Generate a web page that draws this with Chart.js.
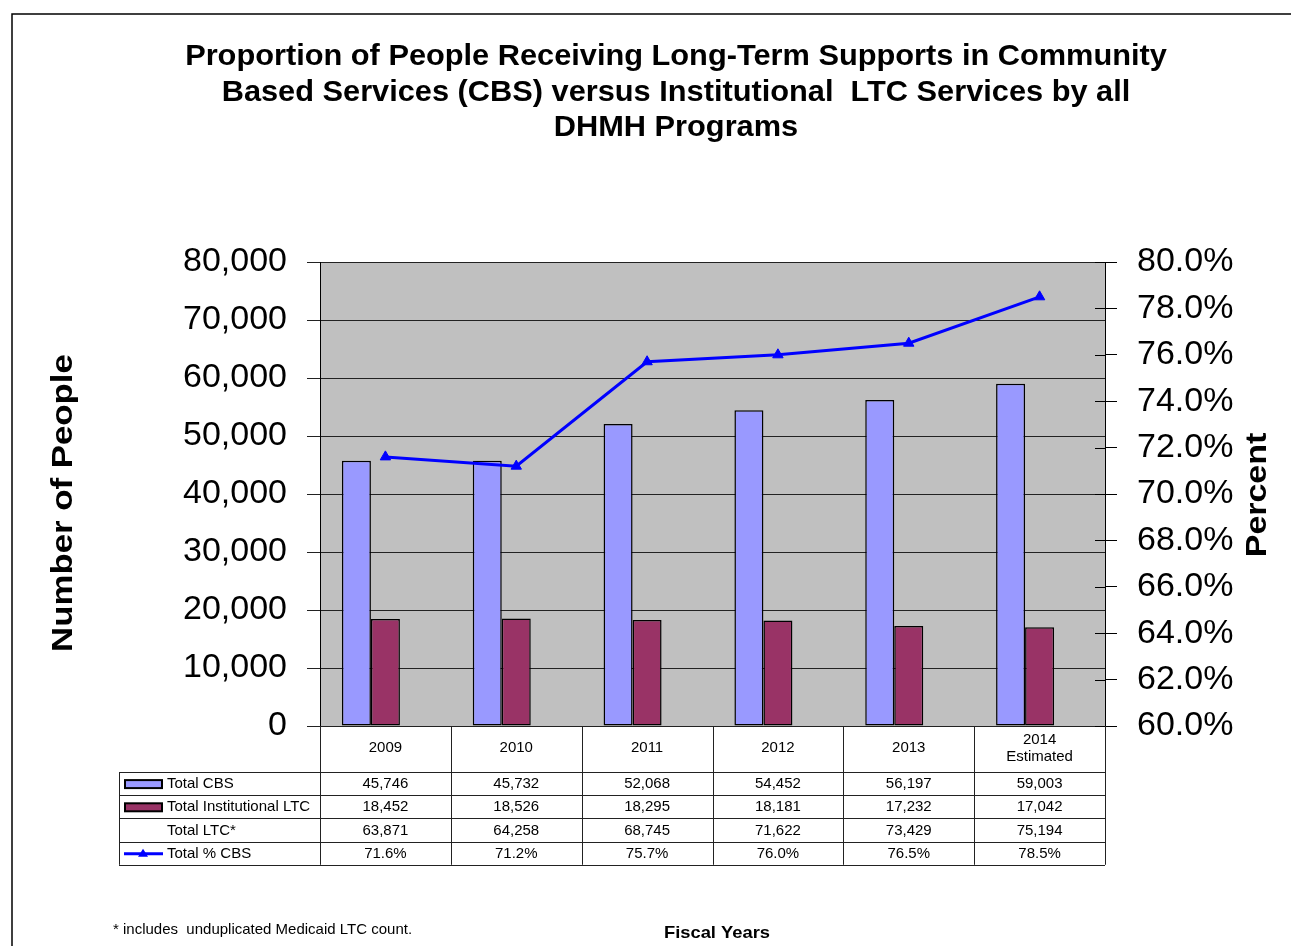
<!DOCTYPE html>
<html>
<head>
<meta charset="utf-8">
<script src="https://cdn.jsdelivr.net/npm/chart.js@4.4.1/dist/chart.umd.min.js"></script>
<style>
    body { margin: 0; background: #fff; }
    canvas { display: block; }
</style>
</head>
<body>
<canvas id="chartLtc" width="1291" height="946"></canvas>
<script>
// fiscal years (second line shown only in the table header)
let years = [["2009"], ["2010"], ["2011"], ["2012"], ["2013"], ["2014", "Estimated"]];
let totalCbs = [45746, 45732, 52068, 54452, 56197, 59003];
let totalInst = [18452, 18526, 18295, 18181, 17232, 17042];
let totalLtc = [63871, 64258, 68745, 71622, 73429, 75194];
let pctCbs = [71.6, 71.2, 75.7, 76.0, 76.5, 78.5];

let titleLines = [
    "Proportion of People Receiving Long-Term Supports in Community",
    "Based Services (CBS) versus Institutional  LTC Services by all",
    "DHMH Programs"
];

const FONT = "'Liberation Sans', Arial, sans-serif";
const CBS_COLOR = "#9999ff";
const INST_COLOR = "#993366";
const LINE_COLOR = "#0000ff";

let num = v => v.toLocaleString("en-US");
let pct = v => v.toFixed(1) + "%";

let tableRows = [
    {label: "Total CBS", values: totalCbs, fmt: num, key: "bar", color: CBS_COLOR},
    {label: "Total Institutional LTC", values: totalInst, fmt: num, key: "bar", color: INST_COLOR},
    {label: "Total LTC*", values: totalLtc, fmt: num, key: null},
    {label: "Total % CBS", values: pctCbs, fmt: pct, key: "line", color: LINE_COLOR}
];

// text drawn a little wider than the font, like the original export
function drawText(ctx, text, x, y, font, sx, rotate) {
    ctx.save();
    ctx.translate(x, y);
    if (rotate) ctx.rotate(-Math.PI / 2);
    ctx.scale(sx, 1);
    ctx.font = font;
    ctx.textAlign = "center";
    ctx.textBaseline = "middle";
    ctx.fillStyle = "#000";
    ctx.fillText(text, 0, 0);
    ctx.restore();
}

let extras = {
    id: "extras",
    beforeDraw(chart) {
        let {ctx, chartArea: a} = chart;
        ctx.save();
        ctx.fillStyle = "#c0c0c0";
        ctx.fillRect(a.left, a.top, a.right - a.left, a.bottom - a.top);
        ctx.restore();
    },
    afterDraw(chart) {
        let {ctx, chartArea: a, scales} = chart;
        ctx.save();

        // page frame
        ctx.strokeStyle = "#000";
        ctx.lineWidth = 1.5;
        ctx.beginPath();
        ctx.moveTo(12, 946);
        ctx.lineTo(12, 14);
        ctx.lineTo(1291, 14);
        ctx.stroke();

        // title
        titleLines.forEach((t, i) => drawText(ctx, t, 676, 57 + i * 35.5, `bold 30px ${FONT}`, 1.025, false));

        // axis titles
        drawText(ctx, "Number of People", 64, 503, `bold 29px ${FONT}`, 1.2, true);
        drawText(ctx, "Percent", 1258, 495, `bold 29px ${FONT}`, 1.17, true);

        // right axis ticks cross the axis line
        let y1 = scales.y1;
        ctx.strokeStyle = "#000";
        ctx.lineWidth = 1;
        y1.ticks.forEach(t => {
            let y = Math.round(y1.getPixelForValue(t.value)) + 0.5;
            ctx.beginPath();
            ctx.moveTo(a.right - 10, y);
            ctx.lineTo(a.right, y);
            ctx.stroke();
        });

        // data table
        let n = years.length;
        let colW = (a.right - a.left) / n;
        let headBottom = 772;
        let rowH = 23.2;
        let tableLeft = 119;
        let tableBottom = headBottom + rowH * tableRows.length;

        ctx.strokeStyle = "#222";
        ctx.lineWidth = 1;
        ctx.beginPath();
        for (let i = 0; i <= n; i++) {
            let x = Math.round(a.left + i * colW) + 0.5;
            ctx.moveTo(x, a.bottom);
            ctx.lineTo(x, tableBottom);
        }
        ctx.moveTo(tableLeft + 0.5, headBottom);
        ctx.lineTo(tableLeft + 0.5, tableBottom);
        for (let r = 0; r <= tableRows.length; r++) {
            let y = Math.round(headBottom + r * rowH) + 0.5;
            ctx.moveTo(tableLeft, y);
            ctx.lineTo(a.right, y);
        }
        ctx.stroke();

        ctx.font = `15px ${FONT}`;
        ctx.fillStyle = "#000";
        ctx.textAlign = "center";
        ctx.textBaseline = "middle";
        years.forEach((lines, i) => {
            let cx = a.left + (i + 0.5) * colW;
            let y0 = 748 - (lines.length - 1) * 8.5;
            lines.forEach((t, j) => ctx.fillText(t, cx, y0 + j * 17));
        });

        tableRows.forEach((row, r) => {
            let cy = headBottom + (r + 0.5) * rowH + 0.5;
            ctx.textAlign = "center";
            ctx.fillStyle = "#000";
            row.values.forEach((v, i) => {
                ctx.fillText(row.fmt(v), a.left + (i + 0.5) * colW, cy);
            });
            ctx.textAlign = "left";
            ctx.fillText(row.label, 167, cy);

            if (row.key === "bar") {
                ctx.fillStyle = row.color;
                ctx.fillRect(125, cy - 4, 37, 8);
                ctx.strokeStyle = "#000";
                ctx.lineWidth = 2;
                ctx.strokeRect(125, cy - 4, 37, 8);
            } else if (row.key === "line") {
                ctx.strokeStyle = row.color;
                ctx.lineWidth = 3;
                ctx.beginPath();
                ctx.moveTo(124, cy);
                ctx.lineTo(163, cy);
                ctx.stroke();
                ctx.fillStyle = row.color;
                ctx.beginPath();
                ctx.moveTo(143, cy - 5);
                ctx.lineTo(148, cy + 3);
                ctx.lineTo(138, cy + 3);
                ctx.closePath();
                ctx.fill();
            }
        });

        // footnote and axis caption
        ctx.fillStyle = "#000";
        ctx.textAlign = "left";
        ctx.font = `15px ${FONT}`;
        ctx.fillText("* includes  unduplicated Medicaid LTC count.", 113, 930);
        drawText(ctx, "Fiscal Years", 717, 933, `bold 17px ${FONT}`, 1.08, false);

        ctx.restore();
    }
};

let chartElement = document.querySelector("#chartLtc").getContext("2d");
new Chart(chartElement, {
    data: {
        labels: years,
        datasets: [{
            type: "line",
            label: "Total % CBS",
            data: pctCbs,
            yAxisID: "y1",
            order: 0,
            borderColor: LINE_COLOR,
            backgroundColor: LINE_COLOR,
            borderWidth: 3,
            tension: 0,
            pointStyle: "triangle",
            pointRadius: 6,
            pointBorderWidth: 1
        }, {
            type: "bar",
            label: "Total CBS",
            data: totalCbs,
            yAxisID: "y",
            order: 1,
            backgroundColor: CBS_COLOR,
            borderColor: "#000",
            borderWidth: 1.5,
            borderSkipped: false
        }, {
            type: "bar",
            label: "Total Institutional LTC",
            data: totalInst,
            yAxisID: "y",
            order: 1,
            backgroundColor: INST_COLOR,
            borderColor: "#000",
            borderWidth: 1.5,
            borderSkipped: false
        }, {
            // unfilled series, only takes its slot beside the visible bars
            type: "bar",
            label: "Total LTC*",
            data: totalLtc,
            yAxisID: "y",
            order: 1,
            backgroundColor: "rgba(0,0,0,0)",
            borderWidth: 0
        }]
    },
    options: {
        responsive: false,
        animation: false,
        layout: {padding: {left: 0, right: 0, top: 262, bottom: 220}},
        datasets: {bar: {categoryPercentage: 0.665, barPercentage: 1}},
        plugins: {
            legend: {display: false},
            tooltip: {enabled: false},
            title: {display: false}
        },
        scales: {
            x: {display: false},
            y: {
                position: "left",
                min: 0,
                max: 80000,
                ticks: {
                    stepSize: 10000,
                    padding: 20,
                    color: "#000",
                    font: {family: FONT, size: 34},
                    callback: v => v.toLocaleString("en-US")
                },
                grid: {color: "#222", lineWidth: 1, tickLength: 13},
                border: {color: "#000", width: 1},
                afterFit: scale => { scale.width = 320; }
            },
            y1: {
                position: "right",
                min: 60,
                max: 80,
                ticks: {
                    stepSize: 2,
                    padding: 20,
                    color: "#000",
                    font: {family: FONT, size: 34},
                    callback: v => v.toFixed(1) + "%"
                },
                grid: {drawOnChartArea: false, color: "#000", tickLength: 12},
                border: {color: "#000", width: 1},
                afterFit: scale => { scale.width = 186; }
            }
        }
    },
    plugins: [extras]
});
</script>
</body>
</html>
